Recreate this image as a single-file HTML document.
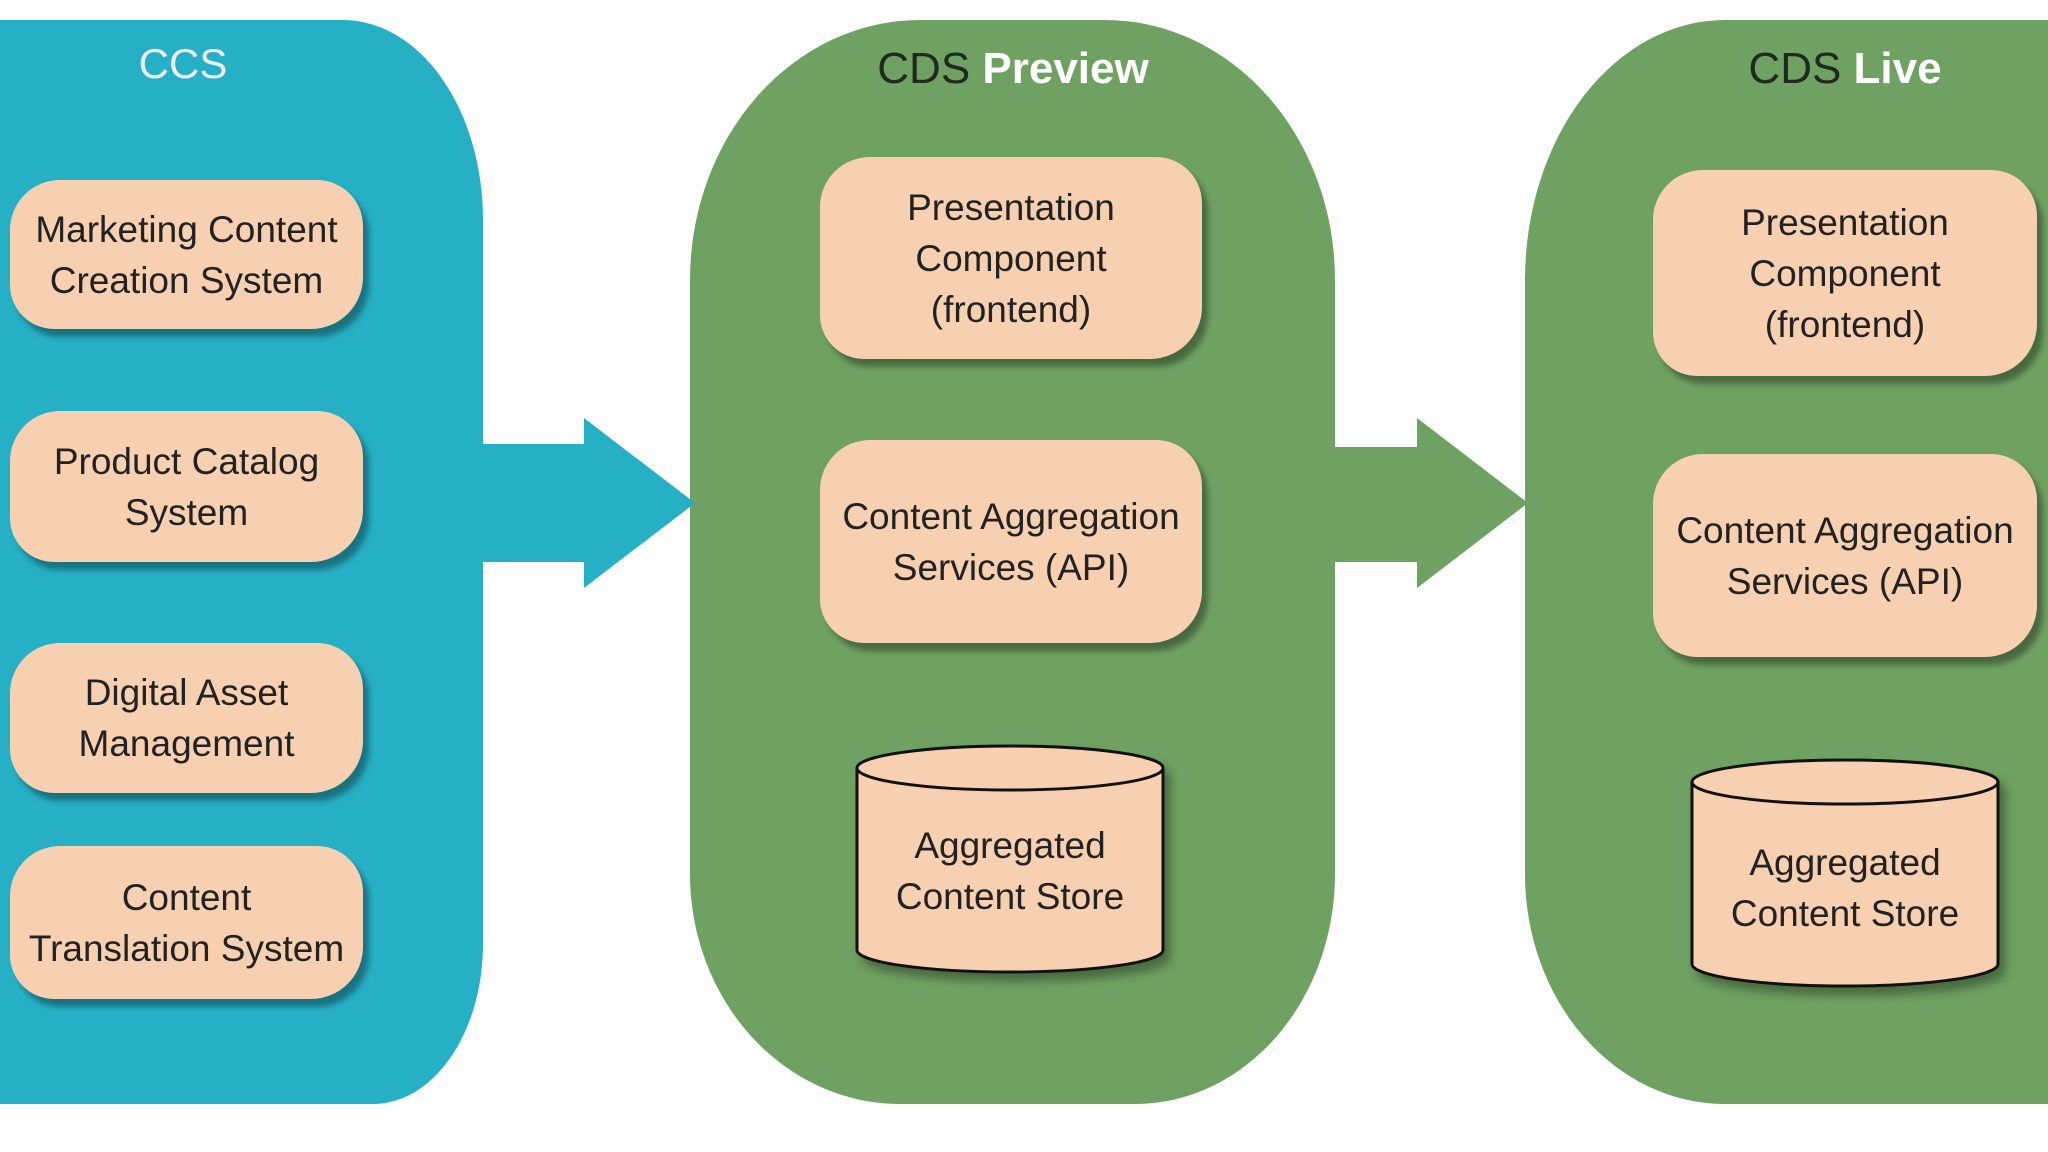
<!DOCTYPE html>
<html><head><style>
body{margin:0;width:2048px;height:1152px;background:#fdfdfd;position:relative;overflow:hidden;font-family:"Liberation Sans",sans-serif;}
.p{position:absolute;border-radius:180px 200px 170px 190px/220px 240px 200px 220px;}
.t{position:absolute;font-size:44px;color:#1d2a1d;text-align:center;transform:translateX(-50%);white-space:nowrap}
.b{position:absolute;background:#f6d0b0;border-radius:50px 46px 52px 44px;box-shadow:6px 8px 6px rgba(0,0,0,.35);display:flex;align-items:center;justify-content:center;text-align:center;font-size:37px;line-height:51px;color:#222;white-space:nowrap}
.cyl{position:absolute;font-size:37px;line-height:51px;color:#222;text-align:center}
</style></head><body>
<div class="p" style="left:-120px;top:20px;width:603px;height:1084px;background:#26b0c6;border-radius:0 140px 110px 0/0 200px 160px 0"></div>
<div class="p" style="left:690px;top:20px;width:645px;height:1084px;background:#6fa262;border-radius:230px 230px 200px 210px/260px 260px 230px 230px"></div>
<div class="p" style="left:1525px;top:20px;width:620px;height:1084px;background:#6fa262;border-radius:200px 0 0 200px/260px 0 0 230px"></div>
<div class="t" style="left:183px;top:40px;color:#eef;font-size:42px">CCS</div>
<div class="t" style="left:1013px;top:44px">CDS <b style="color:#fff">Preview</b></div>
<div class="t" style="left:1845px;top:44px">CDS <b style="color:#fff">Live</b></div>
<svg style="position:absolute;left:0;top:0" width="2048" height="1152">
<polygon points="483,444 584,444 584,418 695,503 584,588 584,562 483,562" fill="#26b0c6"/>
<polygon points="1332,447 1417,447 1417,418 1528,503 1417,588 1417,562 1332,562" fill="#6fa262"/>
<g fill="#f6d0b0" stroke="#111" stroke-width="3" style="filter:drop-shadow(6px 8px 5px rgba(0,0,0,.35))">
<path d="M857,768 L857,950 A153,22 0 0 0 1163,950 L1163,768"/>
<ellipse cx="1010" cy="768" rx="153" ry="22"/>
<path d="M1692,782 L1692,964 A153,22 0 0 0 1998,964 L1998,782"/>
<ellipse cx="1845" cy="782" rx="153" ry="22"/>
</g></svg>
<div class="b" style="left:10px;top:180px;width:353px;height:149px">Marketing Content<br>Creation System</div>
<div class="b" style="left:10px;top:411px;width:353px;height:151px">Product Catalog<br>System</div>
<div class="b" style="left:10px;top:643px;width:353px;height:150px">Digital Asset<br>Management</div>
<div class="b" style="left:10px;top:846px;width:353px;height:153px">Content<br>Translation System</div>
<div class="b" style="left:820px;top:157px;width:382px;height:202px">Presentation<br>Component<br>(frontend)</div>
<div class="b" style="left:820px;top:440px;width:382px;height:203px">Content Aggregation<br>Services (API)</div>
<div class="b" style="left:1653px;top:170px;width:384px;height:206px">Presentation<br>Component<br>(frontend)</div>
<div class="b" style="left:1653px;top:454px;width:384px;height:203px">Content Aggregation<br>Services (API)</div>
<div class="cyl" style="left:857px;top:820px;width:306px">Aggregated<br>Content Store</div>
<div class="cyl" style="left:1692px;top:837px;width:306px">Aggregated<br>Content Store</div>
</body></html>
